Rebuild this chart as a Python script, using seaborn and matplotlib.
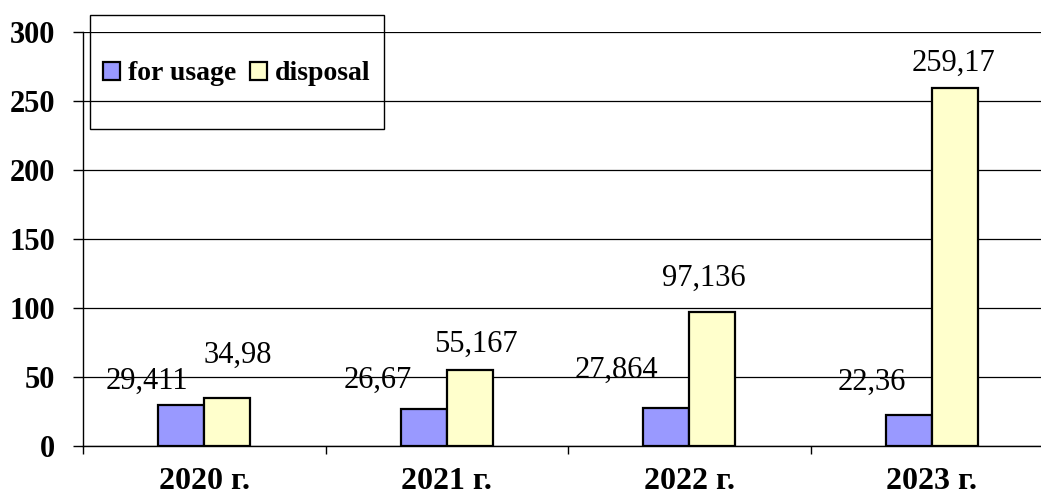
import matplotlib
matplotlib.use("Agg")
import matplotlib.pyplot as plt
import seaborn as sns
import pandas as pd
from matplotlib.patches import Rectangle, Patch
from matplotlib.ticker import FixedLocator

# ---- data ----
years = ["2020 г.", "2021 г.", "2022 г.", "2023 г."]
series = ["for usage", "disposal"]
for_usage = [29.411, 26.67, 27.864, 22.36]
disposal = [34.98, 55.167, 97.136, 259.17]
usage_labels = ["29,411", "26,67", "27,864", "22,36"]
disposal_labels = ["34,98", "55,167", "97,136", "259,17"]
y_ticks = [0, 50, 100, 150, 200, 250, 300]

# ---- style / layout (pixels) ----
colors = ["#9999FF", "#FFFFCC"]
usage_offsets = [(-34.5, 17), (-46, 21), (-50, 30), (-37, 25)]
disposal_offsets = [(10, 35), (6, 18), (-8, 26), (-1.5, 18)]

df = pd.DataFrame({
    "year": years * 2,
    "value": for_usage + disposal,
    "series": [series[0]] * len(years) + [series[1]] * len(years),
})

sns.set_theme(style="white")
plt.rcParams["font.family"] = ["Liberation Serif", "DejaVu Serif"]
plt.rcParams["text.color"] = "black"
plt.rcParams["xtick.color"] = "black"
plt.rcParams["ytick.color"] = "black"

W, H = 1041, 498
fig = plt.figure(figsize=(W / 100, H / 100), dpi=100)
ax = fig.add_axes([83 / W, 52 / H, 970 / W, 414 / H])

sns.barplot(data=df, x="year", y="value", hue="series", hue_order=series,
            palette=colors, saturation=1, width=0.38, gap=0,
            edgecolor="black", linewidth=1.6, ax=ax, legend=False, zorder=3)

ax.set_xlim(-0.5, len(years) - 0.5)
ax.set_ylim(0, 300)
ax.set_yticks(y_ticks)
ax.set_xlabel("")
ax.set_ylabel("")

ax.yaxis.grid(True, color="black", linewidth=0.9)
ax.set_axisbelow(True)
for s in ["top", "right"]:
    ax.spines[s].set_visible(False)
for s in ["left", "bottom"]:
    ax.spines[s].set_color("black")
    ax.spines[s].set_linewidth(1.0)

ax.tick_params(axis="y", left=True, direction="out", length=7, width=1,
               color="black", pad=13, labelsize=22, labelcolor="black")
ax.tick_params(axis="x", which="major", bottom=True, length=0, pad=15,
               labelsize=23, labelcolor="black")
ax.xaxis.set_minor_locator(FixedLocator([i - 0.5 for i in range(len(years) + 1)]))
ax.tick_params(axis="x", which="minor", bottom=True, direction="out", length=6,
               width=1, color="black")
for lbl in ax.get_yticklabels() + ax.get_xticklabels():
    lbl.set_fontweight("bold")

# value labels
for cont, labels, offs in zip(ax.containers, [usage_labels, disposal_labels],
                              [usage_offsets, disposal_offsets]):
    for bar, txt, (dx, dy) in zip(cont, labels, offs):
        x = bar.get_x() + bar.get_width() / 2
        y = bar.get_height()
        ax.annotate(txt, xy=(x, y), xytext=(dx, dy), textcoords="offset pixels",
                    ha="center", va="baseline", fontsize=22, color="black",
                    zorder=5)

# legend
handles = [Patch(facecolor=c, edgecolor="black", linewidth=1.6) for c in colors]
leg = fig.legend(handles, series, ncol=2, frameon=False,
                 prop=dict(weight="bold", size=20),
                 handlelength=0.6, handleheight=0.6, handletextpad=0.3,
                 columnspacing=0.5, loc="center left",
                 bbox_to_anchor=(103 / W, (H - 74) / H), borderpad=0,
                 borderaxespad=0, labelcolor="black")
fig.add_artist(Rectangle((90 / W, (H - 129) / H), 294 / W, 114 / H,
                         transform=fig.transFigure, fill=False,
                         edgecolor="black", linewidth=1.0))

fig.savefig("out.png", dpi=100)
